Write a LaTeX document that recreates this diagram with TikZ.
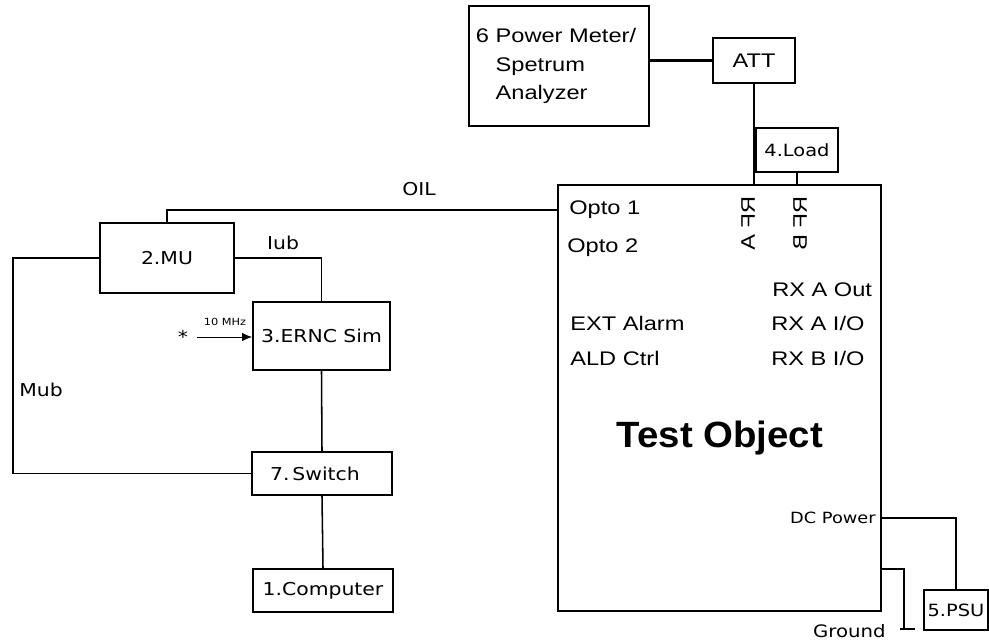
\documentclass[tikz,border=0pt]{standalone}
\usepackage{fontspec}
\setmainfont{Liberation Sans}[FakeStretch=1.2]
\newfontfamily\verdfont{DejaVu Sans}[FakeStretch=1.15]
\newfontfamily\titlefont{Liberation Sans}[FakeStretch=1.05]
\usetikzlibrary{arrows.meta}

\begin{document}
\begin{tikzpicture}[
  x=0.025cm, y=-0.025cm,
  unitbox/.style = {draw, line width=1.3pt, inner sep=2pt, align=center,
                    font=\verdfont\fontsize{12.6}{15}\selectfont},
  wire/.style    = {line width=1.1pt},
  port/.style    = {anchor=west, inner sep=0pt,
                    font=\fontsize{14}{16}\selectfont},
  tag/.style     = {inner sep=0pt, font=\verdfont\fontsize{12.6}{15}\selectfont},
]
\useasboundingbox[fill=white] (0,0) rectangle (989,640);

%% measurement chain
\node[unitbox, minimum width=4.5cm, minimum height=3cm, text width=4.15cm,
      align=left, font=\fontsize{14}{20}\selectfont] (pm) at (559,66)
  {6 Power Meter/\\\phantom{6 }Spetrum\\\phantom{6 }Analyzer};
\node[unitbox, minimum width=2.05cm, minimum height=1.125cm,
      font=\fontsize{14}{16}\selectfont] (att) at (754,60.5) {ATT};
\node[unitbox, minimum width=2.05cm, minimum height=1.1cm,
      font=\verdfont\fontsize{12}{14}\selectfont] (load) at (797,150) {4.Load};

%% device under test
\node[unitbox, minimum width=8.075cm, minimum height=10.65cm] (test) at (719.5,398) {};
\node[font=\titlefont\bfseries\fontsize{26}{30}\selectfont] (title) at (720,438)
  {Test Object};

%% port labels inside the test object
\foreach \name/\txt/\x/\y in {opto1/Opto 1/569/210, opto2/Opto 2/567/248,
    extalm/EXT Alarm/570/323, aldctl/ALD Ctrl/570/358,
    rxaout/RX A Out/772/290, rxaio/{RX A I/O}/771/323, rxbio/{RX B I/O}/771/358}{
  \node[port] (\name) at (\x,\y) {\txt};
}
\node[port, rotate=-90, yscale=-1, anchor=center] (rfa) at (748,223) {RF A};
\node[port, rotate=-90, yscale=-1, anchor=center] (rfb) at (800,223) {RF B};

%% RNC side
\node[unitbox, minimum width=3.35cm, minimum height=1.75cm] (mu) at (167,258) {2.MU};
\node[unitbox, minimum width=3.425cm, minimum height=1.7cm] (ernc) at (321.5,336)
  {3.ERNC Sim};
\node[unitbox, minimum width=3.5cm, minimum height=1.075cm] (switch) at (322,473.5)
  {7.\,Switch\hspace{10pt}};
\node[unitbox, minimum width=3.5cm, minimum height=1.075cm] (comp) at (323,590.5)
  {1.Computer};
\node[unitbox, minimum width=1.6cm, minimum height=1cm, anchor=north west,
      inner sep=1pt, font=\verdfont\fontsize{12}{14}\selectfont] (psu) at (923,589)
  {5.PSU};

%% RF connections
\draw[line width=2.2pt] (pm.east |- att.west) -- (att.west);
\draw[wire] (att.south) -- (att.south |- test.north);
\draw[wire] (load.south) -- (load.south |- test.north);

%% optical and transport links
\draw[wire] (opto1.west -| test.west) -| (mu.north);
\node[tag] (oil) at (419,189) {OIL};
\draw[wire] (mu.east) -| (ernc.north);
\node[tag] (iub) at (283,243) {Iub};
\coordinate (mubbend) at (13,258);
\draw[wire] (mu.west) -- (mubbend) |- (switch.west);
\node[tag] (mub) at (41,390) {Mub};
\draw[wire] (ernc.south) -- (switch.north);
\draw[wire] (switch.south) -- (comp.north);

%% reference clock
\node[tag] (clk) at (183,337) {*};
\draw[-{Latex[length=7pt,width=6pt]}, line width=0.7pt, shorten <=6pt]
  (clk.east) -- (clk.east -| ernc.west);
\node[inner sep=0pt, font=\verdfont\fontsize{7}{8}\selectfont] (mhz) at (225,322)
  {10 MHz};

%% power supply and ground
\node[tag, anchor=east, font=\verdfont\fontsize{11}{13}\selectfont] (dcpow)
  at (876,518) {DC Power};
\draw[wire] (dcpow.east -| test.east) -| (psu.north);
\coordinate (gndtap) at (881,569);
\coordinate (gnd) at (904,629);
\coordinate (gndl) at (900,629);
\coordinate (gndr) at (915,629);
\draw[wire] (gndtap) -| (gnd);
\draw[wire] (gndl) -- (gndr);
\node[tag, anchor=east, font=\verdfont\fontsize{12.2}{14}\selectfont] (ground)
  at (886,631) {Ground};

\end{tikzpicture}
\end{document}
